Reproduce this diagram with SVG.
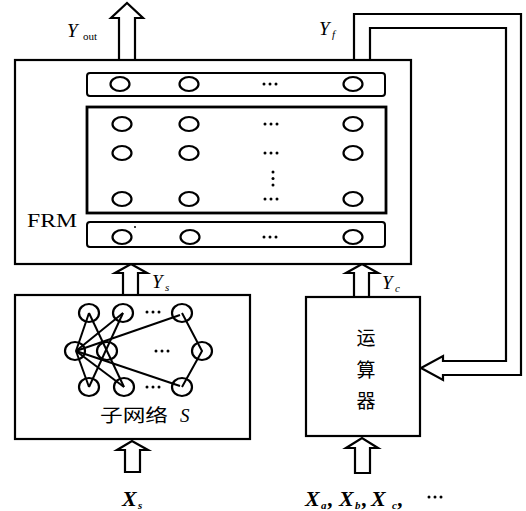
<svg xmlns="http://www.w3.org/2000/svg" width="526" height="511" viewBox="0 0 526 511">
<style>
.box{fill:#fff;stroke:#000;stroke-width:2.2}
.thick{fill:none;stroke:#000;stroke-width:2.8}
.row{fill:none;stroke:#000;stroke-width:2}
.n{fill:none;stroke:#000;stroke-width:2.2}
.arr{fill:#fff;stroke:#000;stroke-width:2.2;stroke-linejoin:miter}
.ln{fill:none;stroke:#000;stroke-width:2}
.dot{fill:#000}
.lab{font-family:"Liberation Serif",serif;font-style:italic;font-size:19px;fill:#000}
.sub{font-family:"Liberation Serif",serif;font-size:11px;fill:#000}
.subi{font-family:"Liberation Serif",serif;font-style:italic;font-size:11px;fill:#000}
.bx{font-family:"Liberation Serif",serif;font-style:italic;font-weight:bold;font-size:22px;fill:#000}
</style>
<defs>
<g id="dots3"><circle cx="-6" cy="0" r="1.5" class="dot"/><circle cx="0" cy="0" r="1.5" class="dot"/><circle cx="6" cy="0" r="1.5" class="dot"/></g>
</defs>

<g id="connectors">
  <path class="arr" d="M119,60 V18 H111 L127,3 L143,18 H135 V60 Z"/>
  <path class="arr" d="M123,295 V273 H115 L131,264 L147,273 H138 V295 Z"/>
  <path class="arr" d="M354,297 V273 H346 L362,264 L378,273 H369 V297 Z"/>
  <path class="arr" d="M125,472 V450 H117 L132,441 L148,450 H140 V472 Z"/>
  <path class="arr" d="M355,473 V448 H346 L362,438 L378,448 H370 V473 Z"/>
  <path class="arr" d="M354,60 V14 H521 V375 H443 V380 L421,368 L443,356 V361 H506 V28 H370 V60"/>
</g>

<g id="frm">
  <rect class="box" x="15" y="60" width="396" height="204"/>
  <text x="27" y="227" font-family="'Liberation Serif',serif" font-size="18" textLength="50" lengthAdjust="spacingAndGlyphs">FRM</text>
</g>

<g id="row-top">
  <rect class="row" x="87" y="73" width="298" height="23" rx="3"/>
  <ellipse class="n" cx="120" cy="84" rx="9.5" ry="7"/>
  <ellipse class="n" cx="189" cy="84" rx="9.5" ry="7"/>
  <use href="#dots3" x="270" y="84"/>
  <ellipse class="n" cx="353" cy="84" rx="9.5" ry="7"/>
</g>

<g id="hidden-layers">
  <rect class="thick" x="87" y="107" width="299" height="106"/>
  <ellipse class="n" cx="122" cy="124" rx="9.5" ry="7"/>
  <ellipse class="n" cx="189" cy="124" rx="9.5" ry="7"/>
  <use href="#dots3" x="271" y="124"/>
  <ellipse class="n" cx="353" cy="124" rx="9.5" ry="7"/>
  <ellipse class="n" cx="122" cy="153" rx="9.5" ry="7"/>
  <ellipse class="n" cx="189" cy="153" rx="9.5" ry="7"/>
  <use href="#dots3" x="271" y="153"/>
  <ellipse class="n" cx="353" cy="153" rx="9.5" ry="7"/>
  <circle cx="273" cy="172" r="1.5" class="dot"/>
  <circle cx="273" cy="178.5" r="1.5" class="dot"/>
  <circle cx="273" cy="185" r="1.5" class="dot"/>
  <ellipse class="n" cx="122" cy="199" rx="9.5" ry="7"/>
  <ellipse class="n" cx="189" cy="199" rx="9.5" ry="7"/>
  <use href="#dots3" x="271" y="199"/>
  <ellipse class="n" cx="353" cy="199" rx="9.5" ry="7"/>
</g>

<g id="row-bottom">
  <rect class="row" x="87" y="222" width="298" height="25" rx="3"/>
  <ellipse class="n" cx="122" cy="237" rx="9.5" ry="7"/>
  <circle cx="135" cy="227" r="1" class="dot"/>
  <ellipse class="n" cx="190" cy="237" rx="9.5" ry="7"/>
  <use href="#dots3" x="270" y="237"/>
  <ellipse class="n" cx="353" cy="237" rx="9.5" ry="7"/>
</g>

<g id="subnet">
  <rect class="box" x="15" y="295" width="235" height="144"/>
  <g>
    <line class="ln" x1="76" y1="351" x2="89" y2="313"/>
    <line class="ln" x1="76" y1="351" x2="123" y2="313"/>
    <line class="ln" x1="76" y1="351" x2="180" y2="315"/>
    <line class="ln" x1="76" y1="351" x2="89" y2="387"/>
    <line class="ln" x1="76" y1="351" x2="124" y2="387"/>
    <line class="ln" x1="76" y1="351" x2="180" y2="386"/>
    <line class="ln" x1="89" y1="313" x2="124" y2="387"/>
    <line class="ln" x1="123" y1="313" x2="89" y2="387"/>
    <polyline class="ln" points="182,313 202,351 182,387"/>
  </g>
  <ellipse class="n" cx="89" cy="313" rx="10" ry="9"/>
  <ellipse class="n" cx="123" cy="313" rx="10" ry="9"/>
  <ellipse class="n" cx="182" cy="313" rx="10" ry="9"/>
  <ellipse class="n" cx="75" cy="351" rx="10" ry="9"/>
  <ellipse class="n" cx="107" cy="351" rx="10" ry="9"/>
  <ellipse class="n" cx="202" cy="351" rx="10" ry="9"/>
  <ellipse class="n" cx="89" cy="387" rx="10" ry="9"/>
  <ellipse class="n" cx="124" cy="387" rx="10" ry="9"/>
  <ellipse class="n" cx="182" cy="387" rx="10" ry="9"/>
  <use href="#dots3" x="153" y="312"/>
  <use href="#dots3" x="162" y="351"/>
  <use href="#dots3" x="153" y="387"/>
  <text x="100" y="422" font-family="'Noto Sans CJK SC',sans-serif" font-size="18" textLength="68" lengthAdjust="spacingAndGlyphs">子网络</text>
  <text x="180" y="422" class="lab">S</text>
</g>

<g id="operator">
  <rect class="box" x="306" y="297" width="114" height="139"/>
  <text x="366" y="345" text-anchor="middle" font-family="'Noto Sans CJK SC',sans-serif" font-size="19">运</text>
  <text x="366" y="377" text-anchor="middle" font-family="'Noto Sans CJK SC',sans-serif" font-size="19">算</text>
  <text x="366" y="408" text-anchor="middle" font-family="'Noto Sans CJK SC',sans-serif" font-size="19">器</text>
</g>

<g id="labels">
  <text x="67" y="37" class="lab">Y</text><text x="83" y="40" class="sub">out</text>
  <text x="319" y="35" class="lab">Y</text><text x="332" y="38" class="subi">f</text>
  <text x="152" y="288" class="lab">Y</text><text x="165" y="291" class="subi">s</text>
  <text x="382" y="289" class="lab">Y</text><text x="395" y="292" class="subi">c</text>
  <text x="122" y="506" class="bx">X</text><text x="138" y="509" class="subi" font-weight="bold">s</text>
  <text x="305" y="506" class="bx">X</text><text x="321" y="509" class="subi" font-weight="bold">a</text><text x="328" y="506" class="bx">,</text>
  <text x="339" y="506" class="bx">X</text><text x="355" y="509" class="subi" font-weight="bold">b</text><text x="362" y="506" class="bx">,</text>
  <text x="371" y="506" class="bx">X</text><text x="392" y="509" class="subi" font-weight="bold">c</text><text x="398" y="506" class="bx">,</text>
  <use href="#dots3" x="435" y="497"/>
</g>
</svg>
